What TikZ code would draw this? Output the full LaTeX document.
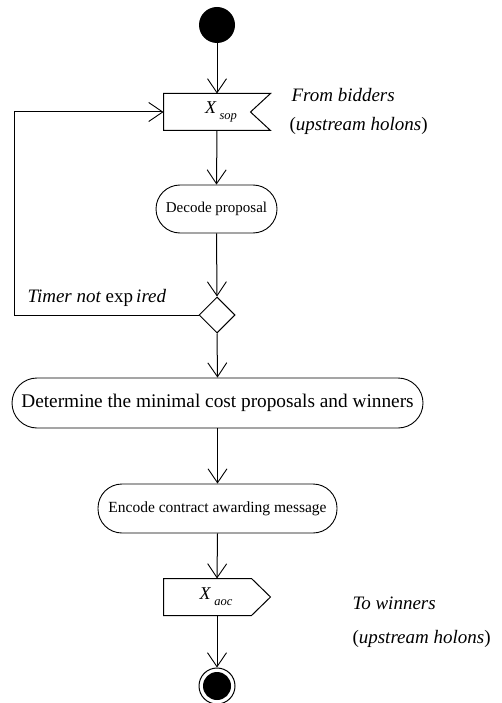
\documentclass[tikz,border=0pt]{standalone}
\usepackage{fontspec}
\setmainfont{Liberation Serif}
\usetikzlibrary{arrows.meta,shapes.geometric}
\begin{document}
\begin{tikzpicture}[x=1pt,y=-1pt,
  line width=1pt,
  arr/.style={-{Straight Barb[length=14pt,width=19pt,line width=0.9pt]}},
  pill/.style={draw,line width=0.9pt,rounded corners=24pt,inner sep=0pt},
  lbl/.style={font=\fontsize{19}{22}\selectfont\itshape,inner sep=0pt,anchor=base west},
  sig/.style={inner sep=0pt,font=\fontsize{18}{20}\selectfont}]
\useasboundingbox (0,0) rectangle (501,703);
% start
\node[circle,fill=black,minimum size=36pt,inner sep=0pt] (start) at (217,25) {};
% receive signal
\node[minimum width=106pt,minimum height=36pt,inner sep=0pt] (rcv) at (217,112) {};
\draw[line width=1pt] (rcv.north west) -- (rcv.north east) -- ([xshift=-20pt]rcv.east) -- (rcv.south east) -- (rcv.south west) -- cycle;
\node[sig] (xsop) at (221,112) {\textit{X}\,\raisebox{-6pt}{\fontsize{12.5}{13}\selectfont\textit{sop}}};
\node[lbl] (from1) at (291,102) {From bidders};
\node[lbl] (from2) at (289,131) {\upshape(\itshape upstream holons\upshape)};
% decode
\node[pill,minimum width=121pt,minimum height=48pt,font=\fontsize{15}{18}\selectfont] (dec) at (216.5,209) {Decode proposal};
% decision
\node[diamond,draw,line width=1pt,minimum width=36pt,minimum height=36pt,inner sep=0pt,aspect=1] (dia) at (217,315) {};
\coordinate (loopc) at (14,315);
\node[lbl] (timer) at (27,302) {Timer not \upshape exp\,\itshape ired};
% determine
\node[pill,rounded corners=25pt,minimum width=411pt,minimum height=50pt,font=\fontsize{19.3}{22}\selectfont] (det) at (217.5,403) {Determine the minimal cost proposals and winners};
% encode
\node[pill,minimum width=239pt,minimum height=49pt,font=\fontsize{15.5}{18}\selectfont] (enc) at (217.5,508.5) {Encode contract awarding message};
% send signal
\node[minimum width=106pt,minimum height=36pt,inner sep=0pt] (snd) at (217,597) {};
\draw[line width=1pt] (snd.north west) -- ([xshift=-19pt]snd.north east) -- (snd.east) -- ([xshift=-19pt]snd.south east) -- (snd.south west) -- cycle;
\node[sig] (xaoc) at (216,597) {\textit{X}\,\raisebox{-6pt}{\fontsize{12.5}{13}\selectfont\textit{aoc}}};
\node[lbl] (to1) at (352,609) {To winners};
\node[lbl] (to2) at (352,643) {\upshape(\itshape upstream holons\upshape)};
% end
\node[circle,draw,line width=1pt,minimum size=36pt,inner sep=0pt] (fin) at (217,686) {};
\node[circle,fill=black,minimum size=28pt,inner sep=0pt] (finin) at (217,686) {};
% flows
\draw[arr] (start) -- (rcv.north);
\draw[arr] (rcv.south) -- (dec.north);
\draw[arr] (dec.south) -- (dia.north);
\draw[arr] (dia.west) -- (loopc) |- (rcv.west);
\draw[arr] (dia.south) -- (det.north);
\draw[arr] (det.south) -- (enc.north);
\draw[arr] (enc.south) -- (snd.north);
\draw[arr] (snd.south) -- (fin.north);
\end{tikzpicture}
\end{document}
